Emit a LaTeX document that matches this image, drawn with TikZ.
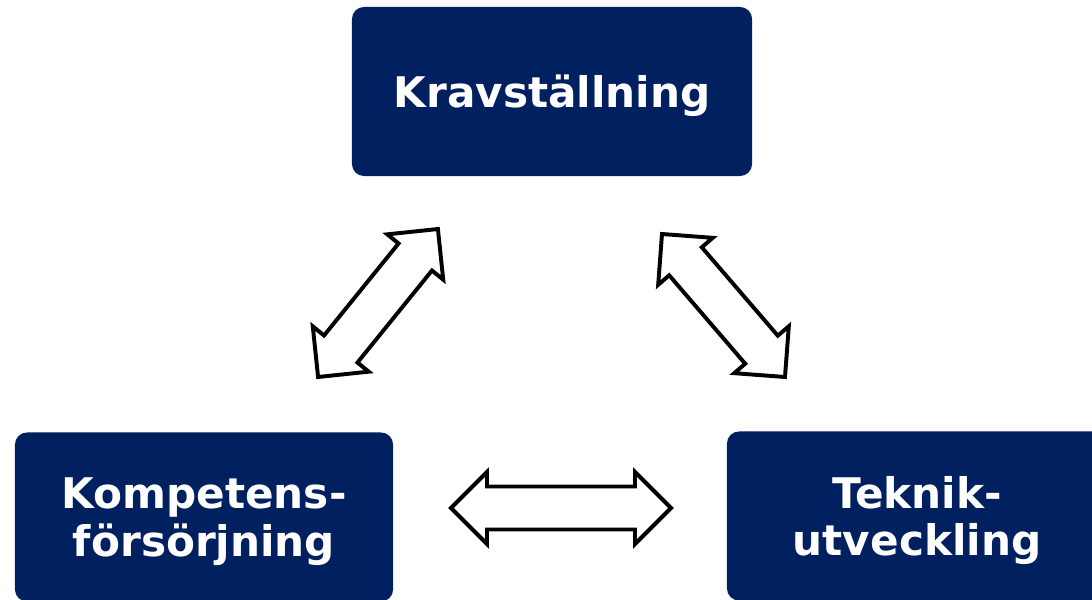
\documentclass[tikz,border=0pt]{standalone}
\usepackage{fontspec}
\setmainfont{DejaVu Sans}
\usepackage{tikz}

\definecolor{navy}{RGB}{0,32,96}

\begin{document}
\begin{tikzpicture}[
        x=0.025cm, y=0.025cm,
        box/.style={
          rectangle,
          fill=navy,
          text=white,
          align=center,
          rounded corners=0.3cm,
          minimum width=10cm,
          minimum height=4.225cm,
          text depth=0pt,
          font=\bfseries\fontsize{30}{34}\selectfont
        },
        outline/.style={draw=black, fill=white, line width=2.8pt, line join=miter},
        blockarrow/.pic={
          % #1 = half length, head 36, shaft half width 21.5
          \path[outline] (-#1,0) -- (-#1+36,36) -- (-#1+36,21.5) -- (#1-36,21.5)
            -- (#1-36,36) -- (#1,0) -- (#1-36,-36) -- (#1-36,-21.5)
            -- (-#1+36,-21.5) -- (-#1+36,-36) -- cycle;
        }
    ]
    \clip (0,0) rectangle (1092,-599);

    % Define the nodes
    \node[box] (krav) at (552,-91.5) {Kravställning};
    \node[box, minimum width=9.45cm] (kompetens) at (204,-517) {Kompetens-\\försörjning};
    \node[box, minimum width=9.5cm] (teknik) at (917,-516) {Teknik-\\utveckling};

    % Block arrows between the nodes
    \pic[rotate=51] (kravKomp) at (378,-303) {blockarrow=95.2};
    \pic[rotate=-49.3] (kravTek) at (723.5,-305.5) {blockarrow=94.3};
    \pic (kompTek) at (561,-508) {blockarrow=110};

\end{tikzpicture}
\end{document}
